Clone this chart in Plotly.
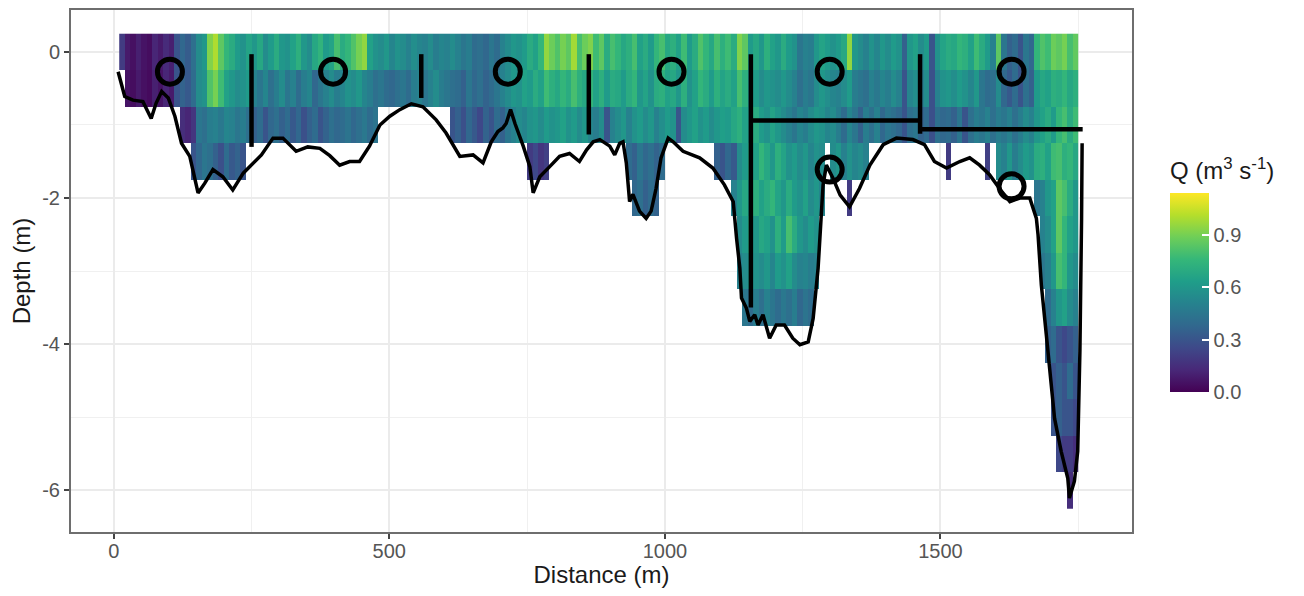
import plotly.graph_objects as go

# ---------------- data ----------------
COL_W = 10          # width of a discharge cell (m)
X0 = 10             # left edge of first cell (m)
N_COLS = 174
depth_levels = [-6.0, -5.5, -5.0, -4.5, -4.0, -3.5, -3.0, -2.5, -2.0, -1.5, -1.0, -0.5, 0.0]

x_tickvals = [0, 500, 1000, 1500]
x_ticktext = ["0", "500", "1000", "1500"]
y_tickvals = [0, -2, -4, -6]
y_ticktext = ["0", "-2", "-4", "-6"]
cb_tickvals = [0, 0.3, 0.6, 0.9]
cb_ticktext = ["0.0", "0.3", "0.6", "0.9"]

# Q (m3/s) per 10 m cell, each list starts at the given distance
q_d00 = [0.2, 0.08, 0.05, 0.1, 0.06, 0.04, 0.12, 0.08, 0.14, 0.1,
         0.3, 0.38, 0.33, 0.42, 0.55, 0.6, 0.92, 1.0, 0.85, 0.75,
         0.7, 0.62, 0.58, 0.66, 0.6, 0.68, 0.55, 0.62, 0.7, 0.6,
         0.58, 0.65, 0.72, 0.6, 0.55, 0.68, 0.74, 0.62, 0.66, 0.8,
         0.7, 0.75, 0.82, 0.9, 0.95, 0.65, 0.58, 0.55, 0.6, 0.52,
         0.58, 0.55, 0.5, 0.56, 0.52, 0.5, 0.55, 0.48, 0.52, 0.5,
         0.55, 0.5, 0.45, 0.48, 0.4, 0.42, 0.38, 0.45, 0.4, 0.5,
         0.55, 0.6, 0.58, 0.62, 0.7, 0.65, 0.75, 0.95, 0.88, 0.82,
         0.9, 0.85, 0.98, 0.8, 0.88, 0.92, 0.78, 0.85, 0.7, 0.8,
         0.75, 0.68, 0.72, 0.8, 0.65, 0.7, 0.62, 0.75, 0.8, 0.68,
         0.72, 0.65, 0.78, 0.62, 0.7, 0.82, 0.75, 0.68, 0.8, 0.72,
         0.78, 0.7, 0.92, 0.85, 0.62, 0.68, 0.6, 0.72, 0.65, 0.6,
         0.7, 0.62, 0.58, 0.45, 0.5, 0.48, 0.6, 0.66, 0.62, 0.58,
         0.62, 0.68, 0.95, 0.6, 0.55, 0.5, 0.58, 0.52, 0.6, 0.55,
         0.62, 0.58, 0.35, 0.6, 0.65, 0.55, 0.62, 0.3, 0.58, 0.66,
         0.7, 0.68, 0.75, 0.72, 0.65, 0.78, 0.7, 0.62, 0.5, 0.85,
         0.45, 0.35, 0.4, 0.3, 0.45, 0.38, 0.75, 0.82, 0.78, 0.88,
         0.85, 0.9, 0.8, 0.86]
q_d05 = [0.06, 0.04, 0.08, 0.05, 0.03, 0.1, 0.06, 0.12, 0.08,
         0.3, 0.36, 0.32, 0.4, 0.55, 0.58, 0.82, 0.9, 0.78, 0.65,
         0.6, 0.55, 0.58, 0.62, 0.5, 0.45, 0.52, 0.42, 0.48, 0.55,
         0.45, 0.5, 0.4, 0.48, 0.52, 0.38, 0.45, 0.5, 0.55, 0.48,
         0.52, 0.58, 0.55, 0.6, 0.52, 0.48, 0.42, 0.45, 0.4, 0.38,
         0.42, 0.45, 0.4, 0.48, 0.5, 0.45, 0.5, 0.55, 0.48, 0.45,
         0.42, 0.4, 0.35, 0.45, 0.38, 0.42, 0.36, 0.4, 0.45, 0.5,
         0.55, 0.6, 0.58, 0.65, 0.62, 0.7, 0.65, 0.78, 0.72, 0.68,
         0.75, 0.7, 0.8, 0.72, 0.68, 0.75, 0.65, 0.72, 0.62, 0.7,
         0.68, 0.62, 0.7, 0.75, 0.6, 0.66, 0.58, 0.7, 0.72, 0.65,
         0.68, 0.6, 0.72, 0.58, 0.65, 0.75, 0.7, 0.62, 0.72, 0.66,
         0.7, 0.65, 0.8, 0.72, 0.58, 0.62, 0.55, 0.6, 0.58, 0.55,
         0.6, 0.55, 0.5, 0.42, 0.48, 0.45, 0.55, 0.6, 0.56, 0.52,
         0.5, 0.55, 0.62, 0.48, 0.45, 0.42, 0.5, 0.46, 0.52, 0.48,
         0.55, 0.5, 0.3, 0.52, 0.56, 0.48, 0.55, 0.28, 0.5, 0.58,
         0.6, 0.56, 0.62, 0.58, 0.52, 0.6, 0.45, 0.4, 0.42, 0.55,
         0.38, 0.32, 0.4, 0.3, 0.42, 0.35, 0.62, 0.68, 0.65, 0.72,
         0.7, 0.75, 0.68, 0.72]
q_d10a = [0.15, 0.12, 0.18, 0.45, 0.42, 0.48, 0.5, 0.46, 0.52,
          0.5, 0.45, 0.48, 0.42, 0.35, 0.4, 0.3, 0.38, 0.42, 0.35,
          0.4, 0.32, 0.38, 0.28, 0.35, 0.4, 0.3, 0.36, 0.42, 0.38,
          0.4, 0.44, 0.38, 0.42, 0.46, 0.4, 0.44]
q_d10b = [0.3, 0.35, 0.28, 0.38, 0.32, 0.25, 0.36, 0.3, 0.4, 0.35,
          0.45, 0.5, 0.55, 0.52, 0.58, 0.6, 0.55, 0.62, 0.58, 0.6,
          0.65, 0.58, 0.62, 0.55, 0.6, 0.52, 0.48, 0.55, 0.3, 0.5,
          0.55, 0.6, 0.5, 0.58, 0.62, 0.55, 0.6, 0.5, 0.56, 0.62,
          0.58, 0.3, 0.55, 0.6, 0.65, 0.58, 0.62, 0.55, 0.6, 0.64,
          0.62, 0.68, 0.72, 0.65, 0.6, 0.7, 0.62, 0.58, 0.66, 0.6,
          0.55, 0.5, 0.45, 0.52, 0.48, 0.55, 0.6, 0.58, 0.52, 0.55,
          0.48, 0.4, 0.52, 0.45, 0.35, 0.48, 0.42, 0.5, 0.38, 0.45,
          0.42, 0.38, 0.3, 0.42, 0.45, 0.36, 0.4, 0.28, 0.42, 0.38,
          0.4, 0.35, 0.45, 0.3, 0.42, 0.48, 0.45, 0.5, 0.42, 0.48,
          0.45, 0.5, 0.42, 0.48, 0.55, 0.5, 0.6, 0.65, 0.7, 0.62,
          0.75, 0.8, 0.7, 0.78]
q_d15a = [0.3, 0.38, 0.45, 0.42, 0.35, 0.28, 0.4, 0.32, 0.36, 0.3]
q_d15b = [0.2, 0.25, 0.18, 0.22]
q_d15c = [0.4, 0.35, 0.45, 0.38, 0.42, 0.36, 0.4]
q_d15d = [0.35, 0.3, 0.38, 0.32, 0.55, 0.62, 0.7, 0.65, 0.75, 0.68,
          0.6, 0.72, 0.66, 0.58, 0.62, 0.55, 0.6, 0.52, 0.58, 0.55]
q_d15e = [0.55, 0.6, 0.5, 0.58, 0.52, 0.55, 0.5]
q_d15f = [0.2]
q_d15g = [0.22]
q_d15h = [0.55, 0.5, 0.6, 0.48, 0.55, 0.62, 0.58, 0.7, 0.72, 0.65,
          0.78, 0.8, 0.72, 0.75, 0.68]
q_d20a = [0.38, 0.42, 0.35, 0.4, 0.36]
q_d20b = [0.5, 0.6, 0.68, 0.62, 0.72, 0.65, 0.7, 0.75, 0.66, 0.6,
          0.7, 0.62, 0.58, 0.65, 0.55, 0.6, 0.52]
q_d20c = [0.2]
q_d20d = [0.45, 0.5, 0.6, 0.65, 0.85, 0.8, 0.7, 0.6]
q_d25a = [0.55, 0.62, 0.7, 0.6, 0.68, 0.65, 0.58, 0.72, 0.62, 0.8,
          0.7, 0.6, 0.55, 0.62, 0.58]
q_d25b = [0.5, 0.55, 0.65, 0.85, 0.75, 0.65, 0.6]
q_d30a = [0.5, 0.55, 0.62, 0.58, 0.55, 0.6, 0.52, 0.62, 0.58, 0.65,
          0.55, 0.5, 0.52, 0.48, 0.5]
q_d30b = [0.45, 0.5, 0.6, 0.8, 0.75, 0.6, 0.55]
q_d35a = [0.45, 0.4, 0.48, 0.42, 0.5, 0.45, 0.4, 0.46, 0.42, 0.48,
          0.38, 0.44, 0.4]
q_d35b = [0.4, 0.5, 0.6, 0.65, 0.55, 0.5]
q_d40 = [0.35, 0.4, 0.3, 0.25, 0.3, 0.35]
q_d45 = [0.3, 0.35, 0.3, 0.4, 0.3]
q_d50 = [0.3, 0.35, 0.3, 0.3, 0.25]
q_d55 = [0.25, 0.2, 0.2, 0.15]
q_d60 = [0.15]

# (cell-row depth, start distance, values)
q_segments = [
    (0.0, 10, q_d00), (-0.5, 20, q_d05),
    (-1.0, 120, q_d10a), (-1.0, 610, q_d10b),
    (-1.5, 140, q_d15a), (-1.5, 750, q_d15b), (-1.5, 930, q_d15c),
    (-1.5, 1090, q_d15d), (-1.5, 1300, q_d15e), (-1.5, 1510, q_d15f),
    (-1.5, 1580, q_d15g), (-1.5, 1600, q_d15h),
    (-2.0, 940, q_d20a), (-2.0, 1120, q_d20b), (-2.0, 1330, q_d20c), (-2.0, 1670, q_d20d),
    (-2.5, 1130, q_d25a), (-2.5, 1680, q_d25b),
    (-3.0, 1130, q_d30a), (-3.0, 1680, q_d30b),
    (-3.5, 1140, q_d35a), (-3.5, 1690, q_d35b),
    (-4.0, 1690, q_d40), (-4.5, 1700, q_d45), (-5.0, 1700, q_d50),
    (-5.5, 1710, q_d55), (-6.0, 1730, q_d60),
]

# river bed profile
bed_dist = [8, 20, 35, 53, 68, 77, 87, 99, 111, 123, 138, 153, 165, 180, 198, 216, 235, 250,
            268, 289, 307, 331, 352, 374, 392, 410, 428, 446, 464, 483, 501, 519, 540, 561,
            585, 603, 628, 652, 670, 685, 697, 706, 712, 720, 728, 743, 755, 761, 773, 791,
            809, 827, 845, 858, 870, 882, 900, 909, 918, 924, 930, 936, 942, 954, 966, 975,
            984, 993, 1006, 1015, 1033, 1063, 1087, 1108, 1124, 1130, 1136, 1139, 1148, 1154,
            1163, 1169, 1178, 1190, 1202, 1217, 1232, 1245, 1260, 1269, 1278, 1287, 1293,
            1305, 1318, 1335, 1353, 1372, 1396, 1420, 1450, 1471, 1489, 1511, 1535, 1553,
            1571, 1589, 1607, 1626, 1644, 1662, 1674, 1677, 1683, 1692, 1698, 1707, 1719,
            1731, 1734, 1743, 1749, 1753, 1756, 1757]
bed_depth = [-0.27, -0.61, -0.66, -0.68, -0.91, -0.70, -0.54, -0.63, -0.88, -1.25, -1.43,
             -1.93, -1.80, -1.61, -1.71, -1.89, -1.66, -1.55, -1.41, -1.18, -1.18, -1.36,
             -1.30, -1.32, -1.42, -1.55, -1.50, -1.50, -1.29, -1.00, -0.88, -0.79, -0.71,
             -0.75, -0.93, -1.11, -1.43, -1.41, -1.52, -1.23, -1.09, -1.04, -0.98, -0.79,
             -0.98, -1.29, -1.57, -1.93, -1.71, -1.57, -1.43, -1.39, -1.50, -1.34, -1.23,
             -1.20, -1.29, -1.41, -1.25, -1.23, -1.52, -2.05, -1.95, -2.18, -2.28, -2.18,
             -1.87, -1.45, -1.18, -1.23, -1.36, -1.45, -1.59, -1.82, -2.05, -2.55, -2.96,
             -3.37, -3.51, -3.69, -3.60, -3.74, -3.60, -3.92, -3.74, -3.74, -3.92, -4.01,
             -3.97, -3.65, -2.96, -1.82, -1.55, -1.73, -1.96, -2.12, -1.87, -1.55, -1.27,
             -1.18, -1.20, -1.27, -1.50, -1.59, -1.50, -1.45, -1.55, -1.68, -1.87, -2.05,
             -2.00, -2.00, -2.28, -2.50, -3.19, -3.87, -4.33, -5.02, -5.47, -5.84, -6.11,
             -5.88, -5.47, -4.10, -2.28, -1.25]

# section dividers
seg_x0 = [250, 558, 862, 1156, 1156, 1463, 1463]
seg_x1 = [250, 558, 862, 1156, 1463, 1463, 1758]
seg_y0 = [-0.03, -0.03, -0.03, -0.03, -0.94, -0.03, -1.06]
seg_y1 = [-1.30, -0.63, -1.13, -3.50, -0.94, -1.12, -1.06]

# section centroids
circ_x = [102, 398, 715, 1012, 1299, 1629, 1299, 1629]
circ_y = [-0.27, -0.27, -0.27, -0.27, -0.27, -0.27, -1.61, -1.84]

# ---------------- build grid ----------------
col_centers = [X0 + COL_W * (i + 0.5) for i in range(N_COLS)]
z = [[None] * N_COLS for _ in depth_levels]
for depth, start, vals in q_segments:
    r = depth_levels.index(depth)
    c0 = int(round((start - X0) / COL_W))
    for k, v in enumerate(vals):
        if 0 <= c0 + k < N_COLS:
            z[r][c0 + k] = v

FONT = "Liberation Sans, Arial, sans-serif"

fig = go.Figure()
fig.add_trace(go.Heatmap(
    x=col_centers, y=depth_levels, z=z, zmin=0, zmax=1.14,
    colorscale="Viridis", zsmooth=False, hoverongaps=False,
    colorbar=dict(
        title=dict(text="Q (m<sup>3</sup> s<sup>-1</sup>)", side="top",
                   font=dict(size=24, family=FONT, color="#1a1a1a")),
        x=1.0358, xanchor="left", xpad=0,
        y=0.268, yanchor="bottom", ypad=0,
        thickness=39, len=234, lenmode="pixels", outlinewidth=0,
        tickvals=cb_tickvals, ticktext=cb_ticktext,
        ticks="inside", tickcolor="white", ticklen=7, tickwidth=1.5,
        tickfont=dict(size=20, family=FONT, color="#555555"),
    ),
))

fig.add_trace(go.Scatter(x=bed_dist, y=bed_depth, mode="lines",
                         line=dict(color="black", width=3.5), hoverinfo="skip"))

sx, sy = [], []
for a, b, c, d in zip(seg_x0, seg_x1, seg_y0, seg_y1):
    sx += [a, b, None]
    sy += [c, d, None]
fig.add_trace(go.Scatter(x=sx, y=sy, mode="lines",
                         line=dict(color="black", width=4.5), hoverinfo="skip"))

fig.add_trace(go.Scatter(x=circ_x, y=circ_y, mode="markers",
                         marker=dict(symbol="circle-open", size=25, color="black",
                                     line=dict(width=5, color="black")),
                         hoverinfo="skip"))

axis_common = dict(
    showline=True, mirror=True, linecolor="#6e6e6e", linewidth=2,
    ticks="outside", ticklen=5, tickwidth=2, tickcolor="#444444",
    gridcolor="#ebebeb", gridwidth=1.8, zeroline=False,
    tickfont=dict(size=20, family=FONT, color="#555555"),
)
fig.update_xaxes(range=[-77.5, 1847.5], tickvals=x_tickvals, ticktext=x_ticktext,
                 ticklabelstandoff=-5,
                 minor=dict(tickvals=[250, 750, 1250, 1750], showgrid=True,
                            gridcolor="#f0f0f0", gridwidth=1),
                 title=dict(text="Distance (m)", standoff=8,
                            font=dict(size=24, family=FONT, color="#1a1a1a")),
                 **axis_common)
fig.update_yaxes(range=[-6.575, 0.575], tickvals=y_tickvals, ticktext=y_ticktext,
                 minor=dict(tickvals=[-1, -3, -5], showgrid=True,
                            gridcolor="#f0f0f0", gridwidth=1),
                 title=dict(text="Depth (m)", standoff=8,
                            font=dict(size=24, family=FONT, color="#1a1a1a")),
                 **axis_common)

# the page body adds an 8 px offset; size and margins compensate for it
fig.update_layout(
    width=1288, height=580,
    margin=dict(l=63, r=164, t=2, b=56, autoexpand=False),
    plot_bgcolor="white", paper_bgcolor="white",
    showlegend=False,
    font=dict(family=FONT),
)

fig.write_html("out.html")
